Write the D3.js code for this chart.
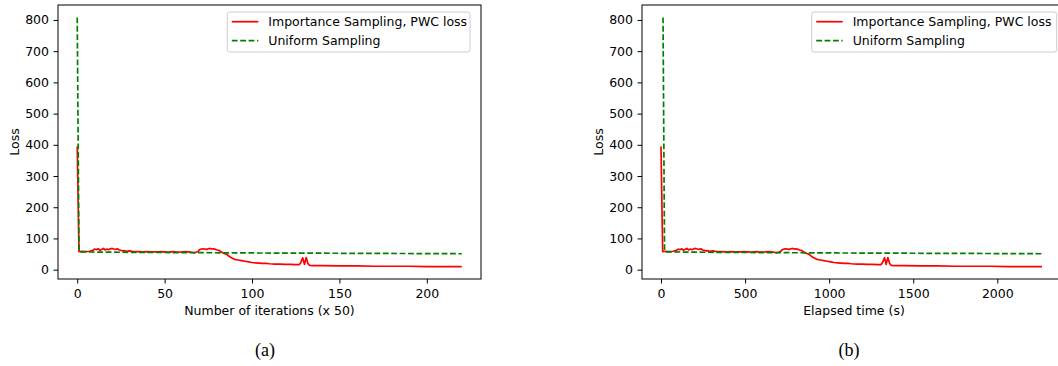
<!DOCTYPE html>
<html>
<head>
<meta charset="utf-8">
<script src="https://cdn.jsdelivr.net/npm/d3@7"></script>
<style>
  html, body { margin: 0; padding: 0; background: #fff; }
  svg { display: block; }
  text { font-family: "DejaVu Sans", sans-serif; }
  text.caption { font-family: "Liberation Serif", "DejaVu Serif", serif; }
</style>
</head>
<body>
<svg id="chart" width="1058" height="366"></svg>
<script>
// ---- Data ----
const iterImportance = [0,1,3,5,7,9,10,11,12,13,14,15,16,17,18,19,20,21,22,23,24,25,26,27,28,30,32,35,38,40,43,46,48,50,52,55,57,60,62,64,66,67,68,69,70,71,72,73,74,75,76,77,78,79,80,81,82,83,84,85,86,87,88,89,90,92,94,96,98,100,102,104,106,108,110,113,116,119,122,125,127,128,129,130,131,132,133,135,140,150,160,170,180,190,200,210,220];
const timeImportance = [0,10,31,52,72,93,103,113,124,134,144,155,165,175,185,196,206,216,227,237,247,258,268,278,288,309,330,361,391,412,443,474,494,515,536,567,587,618,639,659,680,690,700,711,721,731,742,752,762,773,783,793,803,814,824,834,845,855,865,876,886,896,906,917,927,948,968,989,1009,1030,1051,1071,1092,1112,1133,1164,1195,1226,1257,1288,1308,1318,1329,1339,1349,1360,1370,1391,1442,1545,1648,1751,1854,1957,2060,2163,2266];
const lossImportance = [395,58,59,58,59,62,66,64,67,62,65,68,63,66,64,67,68,66,65,67,63,62,60,61,59,60,58,58,57,58,57,57,58,57,56,58,56,57,58,57,55,54,56,58,64,66,67,66,65,67,68,66,67,65,63,62,58,55,52,50,47,42,39,36,33,31,29,27,25,23,22,21,20,20,19,18,18,17,17,16,16,24,38,17,39,19,14,13,13,12,12,11,11,11,10,10,10];

const iterUniform = [0,1,2,20,50,100,150,200,220];
const timeUniform = [12,21,31,218,528,1045,1562,2080,2277];
const lossUniform = [808,60,57,56,55,53.5,52.5,51.5,51];

const xTicksIter = [0,50,100,150,200];
const xTicksTime = [0,500,1000,1500,2000];
const yTicks = [0,100,200,300,400,500,600,700,800];

const seriesNames = ["Importance Sampling, PWC loss", "Uniform Sampling"];
const seriesColors = ["#ff0000", "#008000"];

// ---- Drawing ----
(function () {
const svg = d3.select("#chart");
const plotTop = 5, plotBottom = 279;
const y = d3.scaleLinear().domain([-29.9, 847.9]).range([plotBottom, plotTop]);

function panel(opts) {
  const x = d3.scaleLinear().domain(opts.xDomain).range([opts.left, opts.right]);
  const g = svg.append("g");

  const line = (xs, ys) => d3.line()
      .x((d, i) => x(xs[i]))
      .y((d, i) => y(ys[i]))(ys);

  g.append("path")
    .attr("d", line(opts.xImp, lossImportance))
    .attr("fill", "none").attr("stroke", seriesColors[0])
    .attr("stroke-width", 1.7).attr("stroke-linejoin", "round");
  g.append("path")
    .attr("d", line(opts.xUni, lossUniform))
    .attr("fill", "none").attr("stroke", seriesColors[1])
    .attr("stroke-width", 1.7).attr("stroke-dasharray", "5.8,2.6");

  const xAxis = d3.axisBottom(x).tickValues(opts.xTicks).tickSize(4.5).tickPadding(5.5).tickFormat(d3.format("d"));
  const yAxis = d3.axisLeft(y).tickValues(yTicks).tickSize(4.5).tickPadding(4.5).tickFormat(d3.format("d"));
  const gx = g.append("g").attr("transform", `translate(0,${plotBottom})`).call(xAxis);
  const gy = g.append("g").attr("transform", `translate(${opts.left},0)`).call(yAxis);
  [gx, gy].forEach(a => {
    a.select(".domain").remove();
    a.selectAll("text").attr("font-size", 12.5).attr("fill", "#000");
    a.selectAll("line").attr("stroke", "#000").attr("stroke-width", 1);
  });

  g.append("rect")
    .attr("x", opts.left).attr("y", plotTop)
    .attr("width", opts.right - opts.left).attr("height", plotBottom - plotTop)
    .attr("fill", "none").attr("stroke", "#000").attr("stroke-width", 1);

  g.append("text")
    .attr("x", (opts.left + opts.right) / 2).attr("y", 315)
    .attr("text-anchor", "middle").attr("font-size", 12.5)
    .text(opts.xLabel);
  g.append("text")
    .attr("transform", `translate(${opts.left - 38.7},${(plotTop + plotBottom) / 2}) rotate(-90)`)
    .attr("text-anchor", "middle").attr("font-size", 12.5)
    .text("Loss");
  g.append("text")
    .attr("class", "caption")
    .attr("x", opts.captionX).attr("y", 356)
    .attr("text-anchor", "middle").attr("font-size", 18)
    .text(opts.caption);

  const lx = opts.legendLeft, ly = 12, lw = opts.legendWidth, lh = 40;
  const lg = g.append("g");
  lg.append("rect")
    .attr("x", lx).attr("y", ly).attr("width", lw).attr("height", lh)
    .attr("rx", 2.5).attr("ry", 2.5)
    .attr("fill", "#fff").attr("fill-opacity", 0.8)
    .attr("stroke", "#cccccc").attr("stroke-width", 1);
  const rows = [21.7, 40.7];
  seriesNames.forEach((name, i) => {
    lg.append("line")
      .attr("x1", lx + 4.5).attr("x2", lx + 31)
      .attr("y1", rows[i]).attr("y2", rows[i])
      .attr("stroke", seriesColors[i]).attr("stroke-width", 1.7)
      .attr("stroke-dasharray", i === 1 ? "5.8,2.6" : null);
    lg.append("text")
      .attr("x", lx + 41).attr("y", rows[i])
      .attr("dy", "0.36em").attr("font-size", 12.5)
      .text(name);
  });
}

panel({
  left: 58, right: 481, xDomain: [-11, 231],
  xImp: iterImportance, xUni: iterUniform, xTicks: xTicksIter,
  xLabel: "Number of iterations (x 50)", caption: "(a)", captionX: 265,
  legendLeft: 227.3, legendWidth: 242.7
});
panel({
  left: 642, right: 1066, xDomain: [-113, 2408.5],
  xImp: timeImportance, xUni: timeUniform, xTicks: xTicksTime,
  xLabel: "Elapsed time (s)", caption: "(b)", captionX: 849,
  legendLeft: 811.7, legendWidth: 245
});
})();
</script>
</body>
</html>
